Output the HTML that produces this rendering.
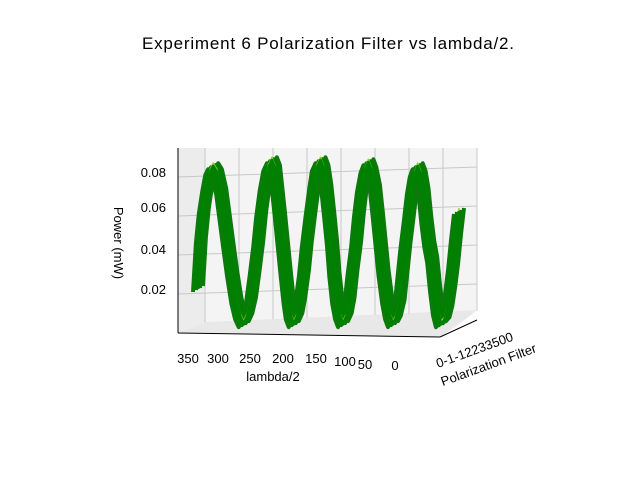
<!DOCTYPE html>
<html><head><meta charset="utf-8"><style>
body{margin:0;background:#fff}
svg{display:block;font-family:"Liberation Sans","DejaVu Sans",sans-serif}
</style></head><body>
<svg width="640" height="480" viewBox="0 0 640 480">
<text x="328" y="49" font-size="17" text-anchor="middle" textLength="372">Experiment 6 Polarization Filter vs lambda/2.</text>
<g>
<polygon points="178,148 205,148 205,322 178,333" fill="#ececec"/>
<polygon points="205,148 477,148 477,310 205,322" fill="#f4f4f4"/>
<polygon points="178,333 205,322 477,310 462,322 440,337" fill="#e8e8e8"/>
</g>
<g id="grid" stroke="#c8c8c8" stroke-width="1" fill="none"></g>
<g id="wave"></g>
<g stroke="#000" stroke-width="1">
<line x1="178" y1="148" x2="178" y2="333"/>
<line x1="178" y1="333" x2="440" y2="337"/>
<line x1="440" y1="337" x2="477" y2="320"/>
</g>
<g font-size="13" text-anchor="end">
<text x="166" y="177">0.08</text><text x="166" y="212">0.06</text>
<text x="166" y="254">0.04</text><text x="166" y="294">0.02</text>
</g>
<text transform="translate(114,243) rotate(90)" font-size="13" text-anchor="middle">Power (mW)</text>
<g font-size="13" text-anchor="middle">
<text x="188" y="363">350</text><text x="218" y="363">300</text><text x="250" y="363">250</text>
<text x="283" y="363">200</text><text x="316" y="363">150</text><text x="345" y="366">100</text>
<text x="365" y="369">50</text><text x="395" y="370">0</text>
</g>
<text x="273" y="381" font-size="13" text-anchor="middle">lambda/2</text>
<text x="438" y="368" font-size="13" transform="rotate(-20 438 368)">0-1-12233500</text>
<text x="490" y="369" font-size="13" text-anchor="middle" transform="rotate(-20 490 369)">Polarization Filter</text>
</svg>
<script>
const lambdaVals=[0,4,8,12,16,20,25,29,33,37,41,45,49,53,57,61,65,69,74,78,82,87,91,95,99,104,108,112,116,121,125,129,134,138,142,147,151,155,160,164,168,172,175,179,183,187,191,196,200,205,210,214,219,223,228,232,235,239,243,247,251,254,258,263,268,273,277,282,287,292,297,302,307,313,318,323,328,334,339,343,347,352,356,360];
const powerVals=[0.060,0.047,0.032,0.020,0.010,0.004,0.002,0.008,0.020,0.035,0.043,0.055,0.070,0.079,0.083,0.079,0.070,0.057,0.042,0.027,0.013,0.005,0.002,0.006,0.014,0.028,0.043,0.058,0.072,0.081,0.085,0.081,0.071,0.058,0.043,0.028,0.014,0.006,0.002,0.006,0.014,0.028,0.043,0.058,0.072,0.082,0.086,0.082,0.072,0.058,0.043,0.028,0.014,0.006,0.002,0.006,0.014,0.028,0.043,0.058,0.072,0.082,0.086,0.082,0.072,0.058,0.043,0.028,0.014,0.006,0.002,0.006,0.014,0.028,0.042,0.056,0.070,0.080,0.083,0.080,0.072,0.060,0.045,0.020];
const zTicks=[0.02,0.04,0.06,0.08];
const NS="http://www.w3.org/2000/svg";
const xs=l=>459-l*(459-198)/360;
const ys=p=>289-(p-0.02)*1950;
const grid=document.getElementById('grid');
for(const t of zTicks){const l=document.createElementNS(NS,'line');
l.setAttribute('x1',178);l.setAttribute('x2',477);l.setAttribute('y1',ys(t)+5);l.setAttribute('y2',ys(t)-5);


grid.appendChild(l);}
for(let i=0;i<9;i++){const x=205+i*34;const l=document.createElementNS(NS,'line');
l.setAttribute('x1',x);l.setAttribute('x2',x);l.setAttribute('y1',148);l.setAttribute('y2',322-i*1.4);


grid.appendChild(l);}
function pathFor(dx,dy){const P=lambdaVals.map((l,i)=>[xs(l)+dx,ys(powerVals[i])+dy]);
return 'M'+P.map(p=>p[0].toFixed(1)+','+p[1].toFixed(1)).join(' L');}
const wave=document.getElementById('wave');
const offs=[[-5,3,'#0a7a0a',4],[5,-3,'#0a7a0a',4],[-2,1,'#008000',4],[2,-1,'#008000',4],[0,-3,'#9acd32',1.5],[0,0,'#008000',3]];
offs.forEach(([dx,dy,c,w])=>{const p=document.createElementNS(NS,'path');
p.setAttribute('d',pathFor(dx,dy));p.setAttribute('fill','none');p.setAttribute('stroke',c);
p.setAttribute('stroke-width',w);p.setAttribute('stroke-linejoin','round');


wave.appendChild(p);});
</script>
</body></html>
